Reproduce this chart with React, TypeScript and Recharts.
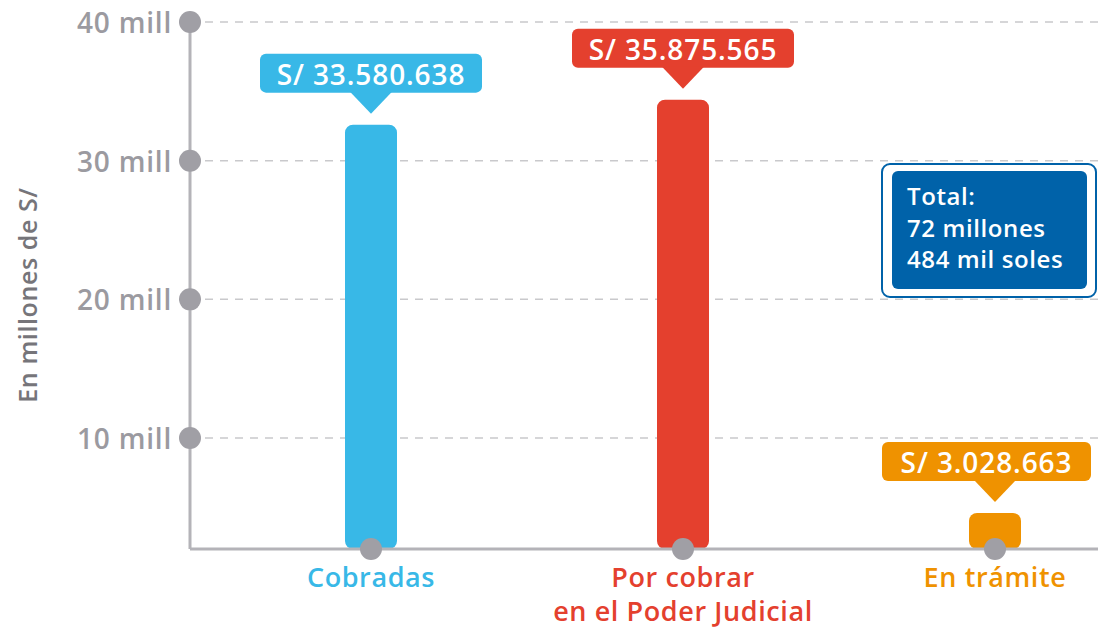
import React from 'react';
import { BarChart, Bar, XAxis, YAxis, CartesianGrid, Cell } from 'recharts';

const categories = ['Cobradas', 'Por cobrar\nen el Poder Judicial', 'En trámite'];
const barValues = [32.6, 34.4, 4.6];
const valueLabels = ['S/ 33.580.638', 'S/ 35.875.565', 'S/ 3.028.663'];
const barColors = ['#38b8e7', '#e4402e', '#ef9200'];
const yTicks = [10, 20, 30, 40];
const yTickLabels = ['10 mill', '20 mill', '30 mill', '40 mill'];
const totalLines = ['Total:', '72 millones', '484 mil soles'];

const data = categories.map((c, i) => ({ name: c, value: barValues[i], label: valueLabels[i] }));

const FONT = '"Open Sans", Lato, sans-serif';
const DOT = '#a09fa5';
const AXIS = '#b4b3b8';

const BarShape = (props: any) => {
  const { x, y, width, height, index } = props;
  const color = barColors[index];
  const cx = x + width / 2;
  const text = valueLabels[index];
  const bw = text.length * 13 + 53;
  let bx = cx - bw / 2;
  if (bx + bw > 1091) bx = 1091 - bw;
  const tx = bx + bw / 2;
  return (
    <g>
      <rect x={x} y={y} width={width} height={height} rx={8} ry={8} fill={color} />
      <rect x={bx} y={y - 71} width={bw} height={39} rx={6} ry={6} fill={color} />
      <path d={`M${cx - 21},${y - 33} L${cx + 21},${y - 33} L${cx},${y - 11} Z`} fill={color} />
      <text x={tx} y={y - 51} textAnchor="middle" dominantBaseline="central" fill="#fff"
        fontFamily={FONT} fontSize={28} fontWeight={600} letterSpacing={0.9}>{text}</text>
    </g>
  );
};

const XTick = (props: any) => {
  const { x, y, payload, index } = props;
  const lines = String(payload.value).split('\n');
  return (
    <g>
      <circle cx={x} cy={y} r={11} fill={DOT} />
      {lines.map((l, i) => (
        <text key={i} x={x} y={y + 38 + i * 34} textAnchor="middle" fill={barColors[index]}
          fontFamily={FONT} fontSize={27} fontWeight={600} letterSpacing={0.6}>{l}</text>
      ))}
    </g>
  );
};

const YTick = (props: any) => {
  const { x, y, payload } = props;
  const idx = yTicks.indexOf(payload.value);
  return (
    <g>
      <circle cx={x} cy={y} r={11} fill={DOT} />
      <text x={x - 18} y={y} textAnchor="end" dominantBaseline="central" fill="#9b9aa0"
        fontFamily={FONT} fontSize={28} fontWeight={600} letterSpacing={0.8}>{yTickLabels[idx]}</text>
    </g>
  );
};

export default function App() {
  return (
    <div style={{ position: 'absolute', left: 0, top: 0, width: 1098, height: 633, overflow: 'hidden', background: '#fff' }}>
      <BarChart width={1151} height={633} data={data} margin={{ top: 22, right: 0, bottom: 0, left: 0 }}>
        <CartesianGrid vertical={false} stroke="#c9c9cc" strokeWidth={1.5} strokeDasharray="8 7" />
        <Bar dataKey="value" barSize={52} isAnimationActive={false} shape={BarShape}>
          {data.map((d, i) => <Cell key={i} fill={barColors[i]} />)}
        </Bar>
        <YAxis type="number" domain={[2, 40]} ticks={yTicks} width={190} tickSize={0} tickMargin={0}
          axisLine={{ stroke: AXIS, strokeWidth: 3 }} tickLine={false} tick={YTick} interval={0} allowDataOverflow
          label={() => (
            <text x={27} y={295} transform="rotate(-90 27 295)" textAnchor="middle" dominantBaseline="central"
              fill="#76757a" fontFamily={FONT} fontSize={25} fontWeight={600} letterSpacing={0.6}>En millones de S/</text>
          )} />
        <XAxis dataKey="name" height={84} tickSize={0} tickMargin={0} padding={{ left: 25, right: 0 }}
          axisLine={{ stroke: AXIS, strokeWidth: 3 }} tickLine={false} tick={XTick} interval={0} />
      </BarChart>
      <svg width={1098} height={633} style={{ position: 'absolute', left: 0, top: 0, pointerEvents: 'none' }}>
        <rect x={882} y={164} width={214} height={133} rx={8} ry={8} fill="#fff" stroke="#0062a9" strokeWidth={2} />
        <rect x={892} y={171} width={195} height={118} rx={6} ry={6} fill="#0062a9" />
        {totalLines.map((l, i) => (
          <text key={i} x={907} y={205 + i * 31.5} fill="#fff" fontFamily={FONT} fontSize={24} fontWeight={600} letterSpacing={0.6}>{l}</text>
        ))}
      </svg>
    </div>
  );
}
